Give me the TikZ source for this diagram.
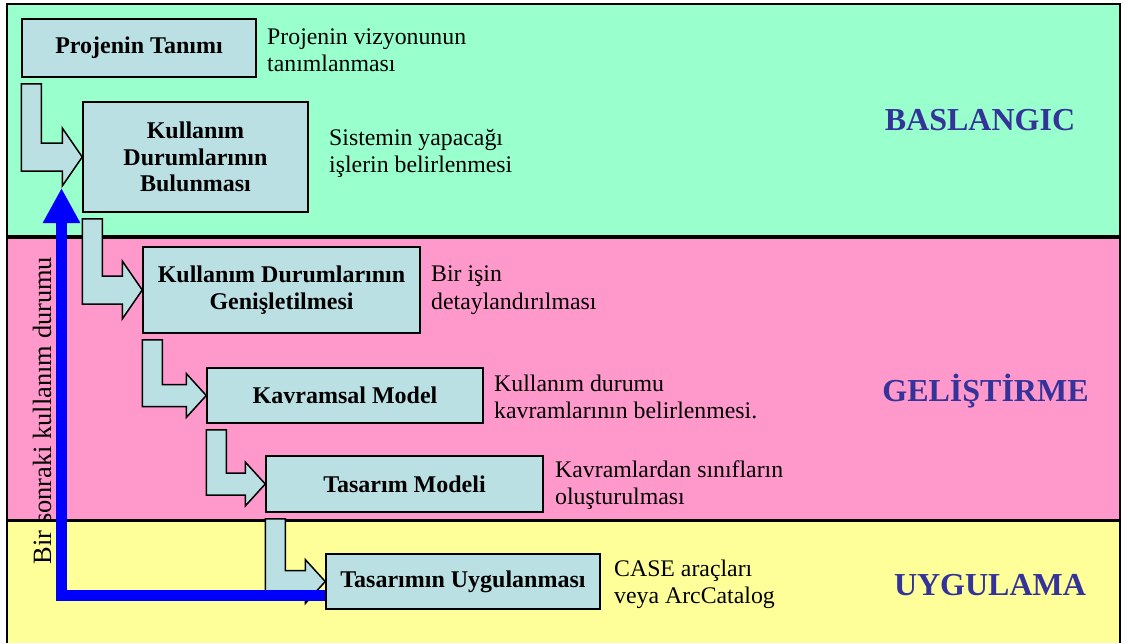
\documentclass[tikz,border=0pt]{standalone}
\usepackage{fontspec}
\setmainfont{Liberation Serif}
\usetikzlibrary{arrows.meta,calc}

\definecolor{bandgreen}{RGB}{153,255,204}
\definecolor{bandpink}{RGB}{255,153,204}
\definecolor{bandyellow}{RGB}{255,255,153}
\definecolor{boxblue}{RGB}{187,224,227}
\definecolor{phaseblue}{RGB}{51,51,153}
\definecolor{loopblue}{RGB}{0,0,255}

\tikzset{
  stage/.style={draw=black, line width=1.5pt, fill=boxblue, inner sep=0pt,
    align=center, font=\fontsize{24}{26.5}\selectfont\bfseries},
  note/.style={anchor=base west, inner sep=0pt, font=\fontsize{23.8}{27}\selectfont},
  phase/.style={anchor=base, inner sep=0pt, text=phaseblue,
    font=\fontsize{32}{36}\selectfont\bfseries},
  blockarrow/.style={draw=black, line width=1.5pt, fill=boxblue, line join=miter},
  backarrow/.style={draw=loopblue, line width=11pt, line join=miter,
    -{Triangle[length=35pt,width=35pt]}},
}

% bent block arrow: from the lower left of #1 to the west side of #2
% #3 = half thickness of the horizontal shaft, #4 = half height of the head
\newcommand\bentarrow[4]{%
  \draw[blockarrow] let \p1=(#1.south west), \p2=(#2.west) in
    (\x1,\y1-6pt) -- (\x1+20pt,\y1-6pt) -- (\x1+20pt,\y2+#3)
    -- (\x2-20pt,\y2+#3) -- (\x2-20pt,\y2+#4) -- (\p2)
    -- (\x2-20pt,\y2-#4) -- (\x2-20pt,\y2-#3) -- (\x1,\y2-#3) -- cycle;}

\begin{document}
\begin{tikzpicture}[x=1pt,y=-1pt]
\useasboundingbox (0,0) rectangle (1130,643);
\fill[white] (0,0) rectangle (1130,643);

% phase bands
\fill[bandgreen]  (7,4)   rectangle (1120,237);
\fill[bandpink]   (7,237) rectangle (1120,520);
\fill[bandyellow] (7,520) rectangle (1120,643);
\draw[line width=2.5pt] (7,643) -- (7,4) -- (1120,4) -- (1120,643);
\draw[line width=4pt] (7,237) -- (1120,237);
\draw[line width=3pt] (7,520) -- (1120,520);

% phase names
\node[phase] (p1) at (980,130)   {BASLANGIC};
\node[phase] (p2) at (985.5,401) {GELİŞTİRME};
\node[phase] (p3) at (990,595)   {UYGULAMA};

% process steps
\node[stage, minimum width=234pt, minimum height=58pt]  (s1) at (139,48)    {Projenin Tanımı};
\node[stage, minimum width=225pt, minimum height=110pt] (s2) at (195.5,157) {Kullanım\\Durumlarının\\Bulunması};
\node[stage, minimum width=277pt, minimum height=86pt]  (s3) at (281.5,290) {Kullanım Durumlarının\\Genişletilmesi};
\node[stage, minimum width=276pt, minimum height=55pt]  (s4) at (345,395.5) {Kavramsal Model};
\node[stage, minimum width=277pt, minimum height=56pt]  (s5) at (404.5,484) {Tasarım Modeli};
\node[stage, minimum width=274pt, minimum height=55pt]  (s6) at (463,581.5) {Tasarımın Uygulanması};

% descriptions, one node per line
\node[note] (n1a) at (267,44)  {Projenin vizyonunun};
\node[note] (n1b) at (267,71)  {tanımlanması};
\node[note] (n2a) at (329,145) {Sistemin yapacağı};
\node[note] (n2b) at (329,172) {işlerin belirlenmesi};
\node[note] (n3a) at (431,281) {Bir işin};
\node[note] (n3b) at (431,309) {detaylandırılması};
\node[note] (n4a) at (494,391) {Kullanım durumu};
\node[note] (n4b) at (494,418) {kavramlarının belirlenmesi.};
\node[note] (n5a) at (555,477) {Kavramlardan sınıfların};
\node[note] (n5b) at (555,504) {oluşturulması};
\node[note] (n6a) at (614,576) {CASE araçları};
\node[note] (n6b) at (614,603) {veya ArcCatalog};

% flow between steps
\bentarrow{s1}{s2}{14pt}{29pt}
\bentarrow{s2}{s3}{14pt}{29pt}
\bentarrow{s3}{s4}{11pt}{22pt}
\bentarrow{s4}{s5}{11pt}{22pt}
\bentarrow{s5}{s6}{11pt}{22pt}

% iteration back to the next use case
\node[rotate=90, anchor=base, inner sep=0pt, font=\fontsize{26.4}{30}\selectfont]
  (loopnote) at (51,410.5) {Bir sonraki kullanım durumu};
\coordinate (loopend) at (61.5,188);
\draw[backarrow] ([yshift=-13.5pt]s6.west) -| (loopend);
\end{tikzpicture}
\end{document}
